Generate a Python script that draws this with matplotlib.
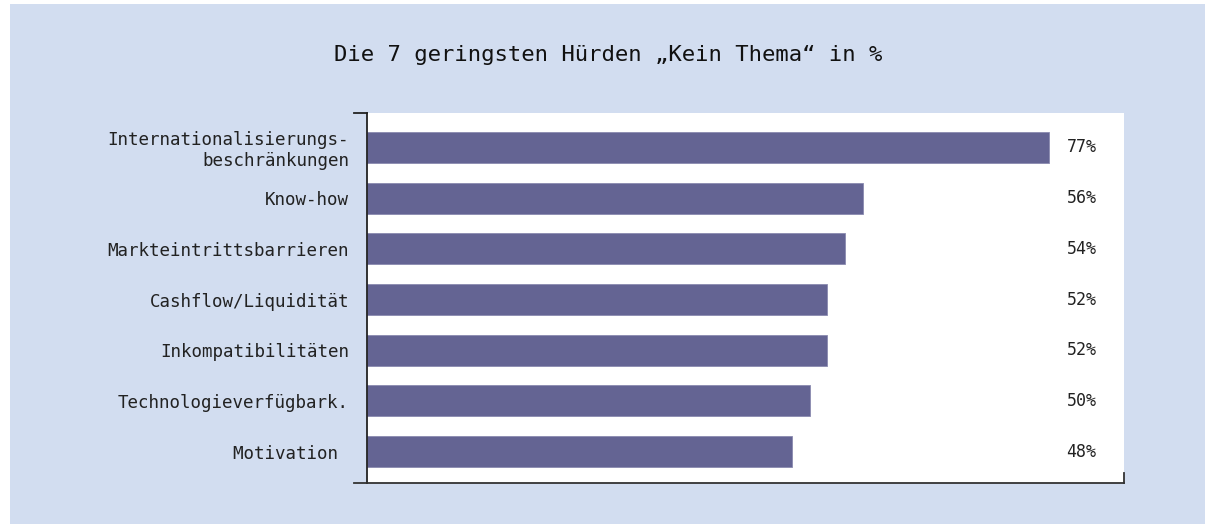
import matplotlib.pyplot as plt
from matplotlib.patches import Rectangle

categories = ["Internationalisierungs-\nbeschränkungen", "Know-how", "Markteintrittsbarrieren",
              "Cashflow/Liquidität", "Inkompatibilitäten", "Technologieverfügbark.", "Motivation "]
values = [77, 56, 54, 52, 52, 50, 48]
title = "Die 7 geringsten Hürden „Kein Thema“ in %"

bg = "#d2ddf0"
bar_color = "#646493"
W, H = 1205, 524
font = "DejaVu Sans Mono"

fig = plt.figure(figsize=(W / 100, H / 100), dpi=100, facecolor="white")
fig.patches.append(Rectangle((10 / W, 0), 1, 1 - 4 / H, transform=fig.transFigure,
                             facecolor=bg, edgecolor="none", zorder=-1))

# plot area in pixels: left 367, right 1124, top 113, bottom 483
ax = fig.add_axes([367 / W, 1 - 483 / H, (1124 - 367) / W, (483 - 113) / H])
ax.set_facecolor("white")

y = list(range(len(values)))
ax.barh(y, values, height=0.61, color=bar_color, edgecolor="#8a8ab0", linewidth=0.6)
ax.set_xlim(0, 85.5)
ax.set_ylim(6.62, -0.68)

for yi, v in zip(y, values):
    ax.text(82.4, yi, f"{v}%", ha="right", va="center", fontsize=12, color="#222222",
            family=font)

ax.set_yticks(y)
ax.set_yticklabels(categories, fontsize=12.6, color="#222222", linespacing=1.15, family=font)
ax.tick_params(axis="y", length=0, pad=13)
ax.set_xticks([])

for s in ["top", "right"]:
    ax.spines[s].set_visible(False)
ax.spines["left"].set_color("#222222")
ax.spines["bottom"].set_color("#333333")
ax.spines["left"].set_linewidth(1.3)
ax.spines["bottom"].set_linewidth(1.3)

# small end ticks on the axis lines
ax.plot([-1.5, 0], [-0.68, -0.68], color="#222222", lw=1.3, clip_on=False)
ax.plot([-1.5, 0], [6.62, 6.62], color="#333333", lw=1.3, clip_on=False)
ax.plot([85.5, 85.5], [6.62, 6.42], color="#333333", lw=1.3, clip_on=False)

fig.text(608 / W, 1 - 55 / H, title, ha="center", va="center", fontsize=16,
         color="#111111", family=font)

fig.savefig("out.png", dpi=100, facecolor="white")
